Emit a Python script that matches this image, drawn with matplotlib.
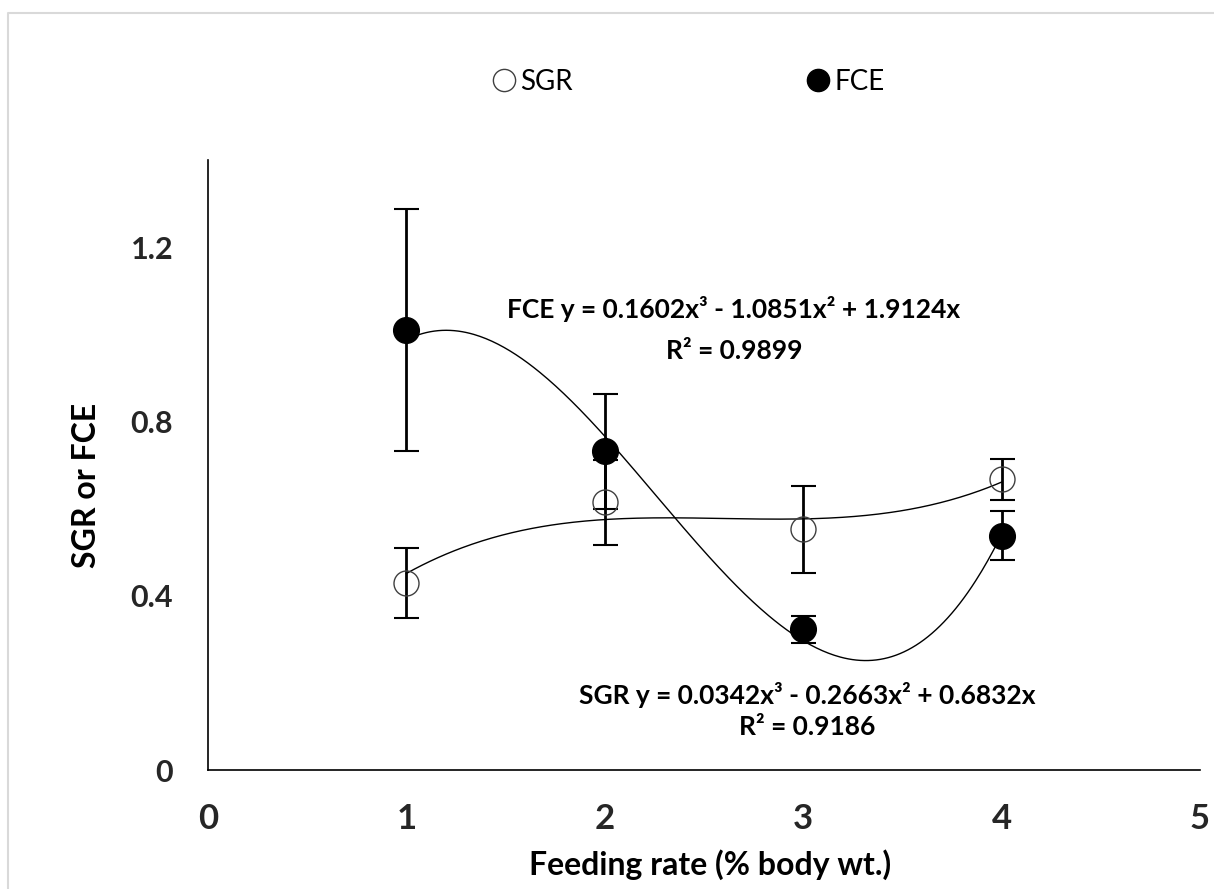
import numpy as np
import matplotlib
matplotlib.use("Agg")
import matplotlib.pyplot as plt
from matplotlib.lines import Line2D

# Data
feeding_rate = [1, 2, 3, 4]
sgr = [0.430, 0.614, 0.552, 0.667]
sgr_err = [0.080, 0.097, 0.099, 0.047]
fce = [1.010, 0.731, 0.323, 0.538]
fce_err = [0.277, 0.131, 0.031, 0.057]
fce_coef = [0.1602, -1.0851, 1.9124, 0.0]
sgr_coef = [0.0342, -0.2663, 0.6832, 0.0]
x_ticks = [0, 1, 2, 3, 4, 5]
y_ticks = [0, 0.4, 0.8, 1.2]
y_ticklabels = ["0", "0.4", "0.8", "1.2"]

plt.rcParams['font.family'] = ['Lato', 'DejaVu Sans']

fig = plt.figure(figsize=(12.14, 8.89), dpi=100)
# light grey chart-area border (top and left visible)
fig.lines.append(Line2D([8/1214, 8/1214, 1], [0, 1 - 13/889, 1 - 13/889], transform=fig.transFigure,
                        color='#d9d9d9', lw=1.5))
ax = fig.add_axes([208/1214, 1 - 770/889, (1200-208)/1214, (770-160)/889])

xs = np.linspace(1, 4, 300)
ax.plot(xs, np.polyval(fce_coef, xs), color='black', lw=1.0, zorder=2)
ax.plot(xs, np.polyval(sgr_coef, xs), color='black', lw=1.0, zorder=2)

ax.errorbar(feeding_rate, fce, yerr=fce_err, fmt='none', ecolor='black', elinewidth=2,
            capsize=9, capthick=1.5, zorder=3)
ax.errorbar(feeding_rate, sgr, yerr=sgr_err, fmt='none', ecolor='black', elinewidth=2,
            capsize=9, capthick=1.5, zorder=3)
ax.plot(feeding_rate, sgr, 'o', ms=18, mfc='none', mec='#404040', mew=1.0, zorder=4)
ax.plot(feeding_rate, fce, 'o', ms=18.5, mfc='black', mec='black', zorder=4)

ax.set_xlim(0, 5)
ax.set_ylim(0, 1.4)
ax.set_xticks(x_ticks)
ax.set_yticks(y_ticks)
ax.set_yticklabels(y_ticklabels)
ax.tick_params(length=0)
ax.tick_params(axis='x', labelsize=25, pad=24)
ax.tick_params(axis='y', labelsize=22, pad=25)
for lab in ax.get_xticklabels() + ax.get_yticklabels():
    lab.set_fontweight('bold')
    lab.set_color('#262626')
for s in ['top', 'right']:
    ax.spines[s].set_visible(False)
for s in ['left', 'bottom']:
    ax.spines[s].set_linewidth(1.2)

ax.set_xlabel('Feeding rate (% body wt.)', fontsize=23, fontweight='bold')
ax.set_ylabel('SGR or FCE', fontsize=23, fontweight='bold')
ax.xaxis.set_label_coords((710 - 208) / 992, (770 - 865) / 610)
ax.yaxis.set_label_coords((86 - 208) / 992, (770 - 485) / 610)
ax.xaxis.label.set_va('center')
ax.yaxis.label.set_va('center')

ax.text(2.65, 1.057, 'FCE y = 0.1602x³ - 1.0851x² + 1.9124x',
        ha='center', va='center', fontsize=19, fontweight='bold')
ax.text(2.65, 0.961, 'R² = 0.9899', ha='center', va='center', fontsize=19, fontweight='bold')
ax.text(3.02, 0.172, 'SGR y = 0.0342x³ - 0.2663x² + 0.6832x',
        ha='center', va='center', fontsize=19, fontweight='bold')
ax.text(3.02, 0.099, 'R² = 0.9186', ha='center', va='center', fontsize=19, fontweight='bold')

handles = [Line2D([], [], ls='none', marker='o', ms=16, mfc='none', mec='#404040', mew=1.0),
           Line2D([], [], ls='none', marker='o', ms=16, mfc='black', mec='black')]
fig.legend(handles, ['SGR', 'FCE'], loc='center', bbox_to_anchor=(0.565, 1 - 82/889), ncol=2,
           frameon=False, fontsize=20, handletextpad=0.0, columnspacing=8.2, handlelength=1.2)

fig.savefig('out.png', dpi=100)
